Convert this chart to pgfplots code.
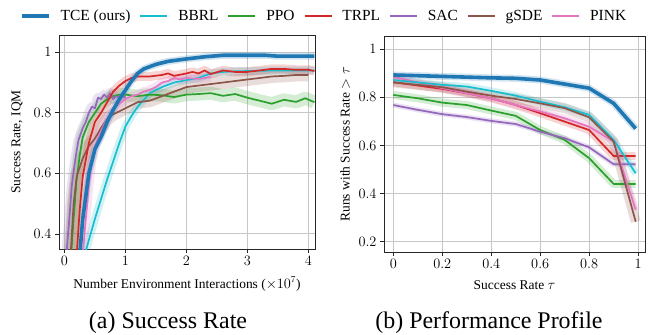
\documentclass[border=0pt]{standalone}
\usepackage{fontspec}
\setmainfont{Liberation Serif}
\usepackage{pgfplots}
\pgfplotsset{compat=1.18}
\definecolor{cblue}{HTML}{1F77B4}
\definecolor{ccyan}{HTML}{17BECF}
\definecolor{cgreen}{HTML}{2CA02C}
\definecolor{cred}{HTML}{D62728}
\definecolor{cpurple}{HTML}{9467BD}
\definecolor{cbrown}{HTML}{8C564B}
\definecolor{cpink}{HTML}{E377C2}
\pgfplotsset{
  myax/.style={scale only axis, axis line style={line width=0.8bp, black!85},
    grid=major, grid style={line width=0.9bp, black!22},
    xtick pos=bottom, ytick pos=left,
    tick align=outside, major tick length=4bp, tick style={black!85, line width=0.6bp},
    ticklabel style={font=\fontsize{13.5}{15}\selectfont},
    label style={font=\fontsize{13.5}{15}\selectfont},
    clip=true},
  band/.style={forget plot, line width=#1, opacity=0.2, line join=round},
  ln/.style={forget plot, line width=1.7bp, line join=round},
}
\begin{document}
\begin{tikzpicture}
\useasboundingbox (0,0) rectangle (651bp,-335bp);
% ---------------- (a) ----------------
\begin{axis}[myax, at={(59bp,-249bp)}, anchor=south west, width=256bp, height=214bp,
  xmin=-0.09, xmax=4.11, ymin=0.35, ymax=1.057,
  xtick={0,1,2,3,4}, ytick={0.4,0.6,0.8,1},
  xlabel={Number Environment Interactions ($\times 10^{7}$)},
  ylabel={Success Rate, IQM},
  xlabel style={at={(axis description cs:0.5,-0.164)}, anchor=center},
  ylabel style={at={(axis description cs:-0.164,0.5)}, anchor=center},
  legend columns=7,
  legend style={draw=none, fill=none, inner sep=0pt, outer sep=0pt,
    at={(axis description cs:-0.152,1.089)}, anchor=west,
    font=\fontsize{15.5}{18}\selectfont,
    nodes={inner sep=0pt},
    /tikz/every odd column/.append style={column sep=10bp},
    /tikz/every even column/.append style={column sep=9bp}},
  legend image code/.code={\draw[#1] (0bp,0bp) -- (27bp,0bp);},
]
\addlegendimage{cblue, line width=3.6bp}\addlegendentry{TCE (ours)}
\addlegendimage{ccyan, line width=1.7bp}\addlegendentry{BBRL}
\addlegendimage{cgreen, line width=1.7bp}\addlegendentry{PPO}
\addlegendimage{cred, line width=1.7bp}\addlegendentry{TRPL}
\addlegendimage{cpurple, line width=1.7bp}\addlegendentry{SAC}
\addlegendimage{cbrown, line width=1.7bp}\addlegendentry{gSDE}
\addlegendimage{cpink, line width=1.7bp}\addlegendentry{PINK}
% data
\def\TCEa{(0.25,0.33)(0.3,0.45)(0.4,0.6)(0.5,0.68)(0.6,0.72)(0.7,0.77)(0.8,0.81)(0.9,0.845)(1.0,0.875)(1.1,0.905)(1.2,0.93)(1.3,0.945)(1.5,0.96)(1.7,0.97)(2.0,0.978)(2.3,0.985)(2.6,0.99)(3.0,0.99)(3.3,0.99)(3.5,0.987)(4.1,0.987)}
\def\BBRLa{(0.33,0.33)(0.5,0.45)(0.7,0.58)(0.9,0.7)(1.0,0.755)(1.1,0.79)(1.2,0.82)(1.4,0.865)(1.6,0.885)(1.8,0.9)(2.0,0.908)(2.2,0.915)(2.4,0.93)(2.6,0.935)(2.8,0.937)(3.0,0.938)(3.5,0.94)(4.1,0.94)}
\def\PPOa{(0.11,0.33)(0.15,0.45)(0.2,0.58)(0.25,0.66)(0.3,0.72)(0.4,0.77)(0.5,0.8)(0.6,0.83)(0.7,0.845)(0.8,0.855)(0.9,0.86)(1.0,0.86)(1.2,0.855)(1.4,0.86)(1.6,0.858)(1.8,0.852)(2.0,0.86)(2.2,0.862)(2.4,0.865)(2.6,0.856)(2.8,0.862)(3.0,0.85)(3.2,0.84)(3.4,0.83)(3.6,0.843)(3.8,0.836)(3.95,0.848)(4.1,0.835)}
\def\TRPLa{(0.2,0.33)(0.25,0.48)(0.3,0.59)(0.4,0.7)(0.5,0.77)(0.6,0.8)(0.7,0.835)(0.8,0.87)(0.9,0.89)(1.0,0.905)(1.1,0.915)(1.2,0.92)(1.4,0.92)(1.6,0.925)(1.7,0.93)(1.8,0.922)(2.0,0.93)(2.1,0.935)(2.2,0.93)(2.3,0.94)(2.4,0.928)(2.6,0.94)(2.8,0.935)(3.0,0.935)(3.2,0.94)(3.4,0.945)(3.6,0.945)(3.8,0.942)(4.0,0.942)(4.1,0.938)}
\def\SACa{(0.03,0.33)(0.08,0.45)(0.12,0.56)(0.18,0.65)(0.23,0.71)(0.3,0.75)(0.35,0.77)(0.4,0.8)(0.45,0.82)(0.5,0.815)(0.55,0.85)(0.6,0.845)(0.65,0.86)(0.7,0.85)(0.75,0.865)(0.8,0.845)(0.85,0.855)(0.9,0.85)(0.95,0.855)(1.0,0.85)}
\def\gSDEa{(0.1,0.33)(0.15,0.5)(0.2,0.59)(0.3,0.65)(0.4,0.69)(0.5,0.715)(0.6,0.75)(0.7,0.78)(0.8,0.795)(0.9,0.805)(1.0,0.815)(1.1,0.825)(1.2,0.835)(1.4,0.84)(1.6,0.855)(1.8,0.87)(2.0,0.885)(2.2,0.89)(2.4,0.895)(2.6,0.9)(2.8,0.905)(3.0,0.91)(3.2,0.915)(3.4,0.92)(3.6,0.922)(3.8,0.925)(4.0,0.925)}
\def\PINKa{(0.3,0.33)(0.35,0.45)(0.4,0.56)(0.45,0.64)(0.5,0.69)(0.6,0.74)(0.7,0.78)(0.8,0.815)(0.9,0.83)(1.0,0.845)(1.1,0.855)(1.2,0.86)(1.3,0.87)(1.4,0.875)(1.5,0.885)(1.6,0.9)(1.7,0.905)(1.8,0.915)(1.9,0.91)(2.0,0.915)(2.2,0.912)(2.4,0.918)}
\addplot[band=8bp, ccyan] coordinates {\BBRLa};
\addplot[band=13bp, cgreen] coordinates {\PPOa};
\addplot[band=9bp, cred] coordinates {\TRPLa};
\addplot[band=10bp, cpurple] coordinates {\SACa};
\addplot[band=13bp, cbrown] coordinates {\gSDEa};
\addplot[band=9bp, cpink] coordinates {\PINKa};
\addplot[band=7bp, cblue] coordinates {\TCEa};
\addplot[ln, ccyan] coordinates {\BBRLa};
\addplot[ln, cgreen] coordinates {\PPOa};
\addplot[ln, cbrown] coordinates {\gSDEa};
\addplot[ln, cpink] coordinates {\PINKa};
\addplot[ln, cpurple] coordinates {\SACa};
\addplot[ln, cred] coordinates {\TRPLa};
\addplot[ln, cblue, line width=3.6bp] coordinates {\TCEa};
\end{axis}
% ---------------- (b) ----------------
\begin{axis}[myax, at={(384bp,-252bp)}, anchor=south west, width=261bp, height=216bp,
  xmin=-0.038, xmax=1.028, ymin=0.157, ymax=1.055,
  xtick={0,0.2,0.4,0.6,0.8,1}, ytick={0.2,0.4,0.6,0.8,1},
  xlabel={Success Rate $\tau$},
  ylabel={Runs with Success Rate $>\tau$},
  xlabel style={at={(axis description cs:0.5,-0.153)}, anchor=center},
  ylabel style={at={(axis description cs:-0.149,0.5)}, anchor=center},
]
\def\TCEb{(0,0.893)(0.1,0.89)(0.2,0.887)(0.3,0.884)(0.4,0.881)(0.5,0.879)(0.6,0.872)(0.7,0.855)(0.8,0.838)(0.9,0.775)(0.99,0.67)}
\def\BBRLb{(0,0.872)(0.1,0.862)(0.2,0.852)(0.3,0.845)(0.4,0.827)(0.5,0.807)(0.6,0.782)(0.7,0.759)(0.8,0.727)(0.9,0.623)(0.99,0.484)}
\def\PPOb{(0,0.81)(0.1,0.796)(0.2,0.778)(0.3,0.768)(0.4,0.745)(0.5,0.723)(0.6,0.664)(0.7,0.623)(0.8,0.547)(0.9,0.44)(0.99,0.44)}
\def\TRPLb{(0,0.863)(0.1,0.849)(0.2,0.835)(0.3,0.817)(0.4,0.796)(0.5,0.768)(0.6,0.734)(0.7,0.699)(0.8,0.664)(0.9,0.556)(0.99,0.556)}
\def\SACb{(0,0.768)(0.1,0.748)(0.2,0.73)(0.3,0.718)(0.4,0.702)(0.5,0.689)(0.6,0.657)(0.7,0.63)(0.8,0.592)(0.9,0.522)(0.99,0.522)}
\def\gSDEb{(0,0.862)(0.1,0.852)(0.2,0.842)(0.3,0.824)(0.4,0.807)(0.5,0.793)(0.6,0.775)(0.7,0.755)(0.8,0.717)(0.9,0.616)(0.99,0.283)}
\def\PINKb{(0,0.886)(0.1,0.862)(0.2,0.838)(0.3,0.817)(0.4,0.796)(0.5,0.768)(0.6,0.741)(0.7,0.713)(0.8,0.678)(0.9,0.616)(0.99,0.332)}
\addplot[band=7bp, ccyan] coordinates {\BBRLb};
\addplot[band=8bp, cgreen] coordinates {\PPOb};
\addplot[band=8bp, cred] coordinates {\TRPLb};
\addplot[band=5bp, cpurple] coordinates {\SACb};
\addplot[band=10bp, cbrown] coordinates {\gSDEb};
\addplot[band=7bp, cpink] coordinates {\PINKb};
\addplot[band=7bp, cblue] coordinates {\TCEb};
\addplot[ln, cgreen] coordinates {\PPOb};
\addplot[ln, cpurple] coordinates {\SACb};
\addplot[ln, cred] coordinates {\TRPLb};
\addplot[ln, cpink] coordinates {\PINKb};
\addplot[ln, ccyan] coordinates {\BBRLb};
\addplot[ln, cbrown] coordinates {\gSDEb};
\addplot[ln, cblue, line width=3.6bp] coordinates {\TCEb};
\end{axis}
\node[anchor=base, font=\fontsize{24}{28}\selectfont] at (168bp,-328bp) {(a) Success Rate};
\node[anchor=base, font=\fontsize{24}{28}\selectfont] at (489bp,-328bp) {(b) Performance Profile};
\end{tikzpicture}
\end{document}
